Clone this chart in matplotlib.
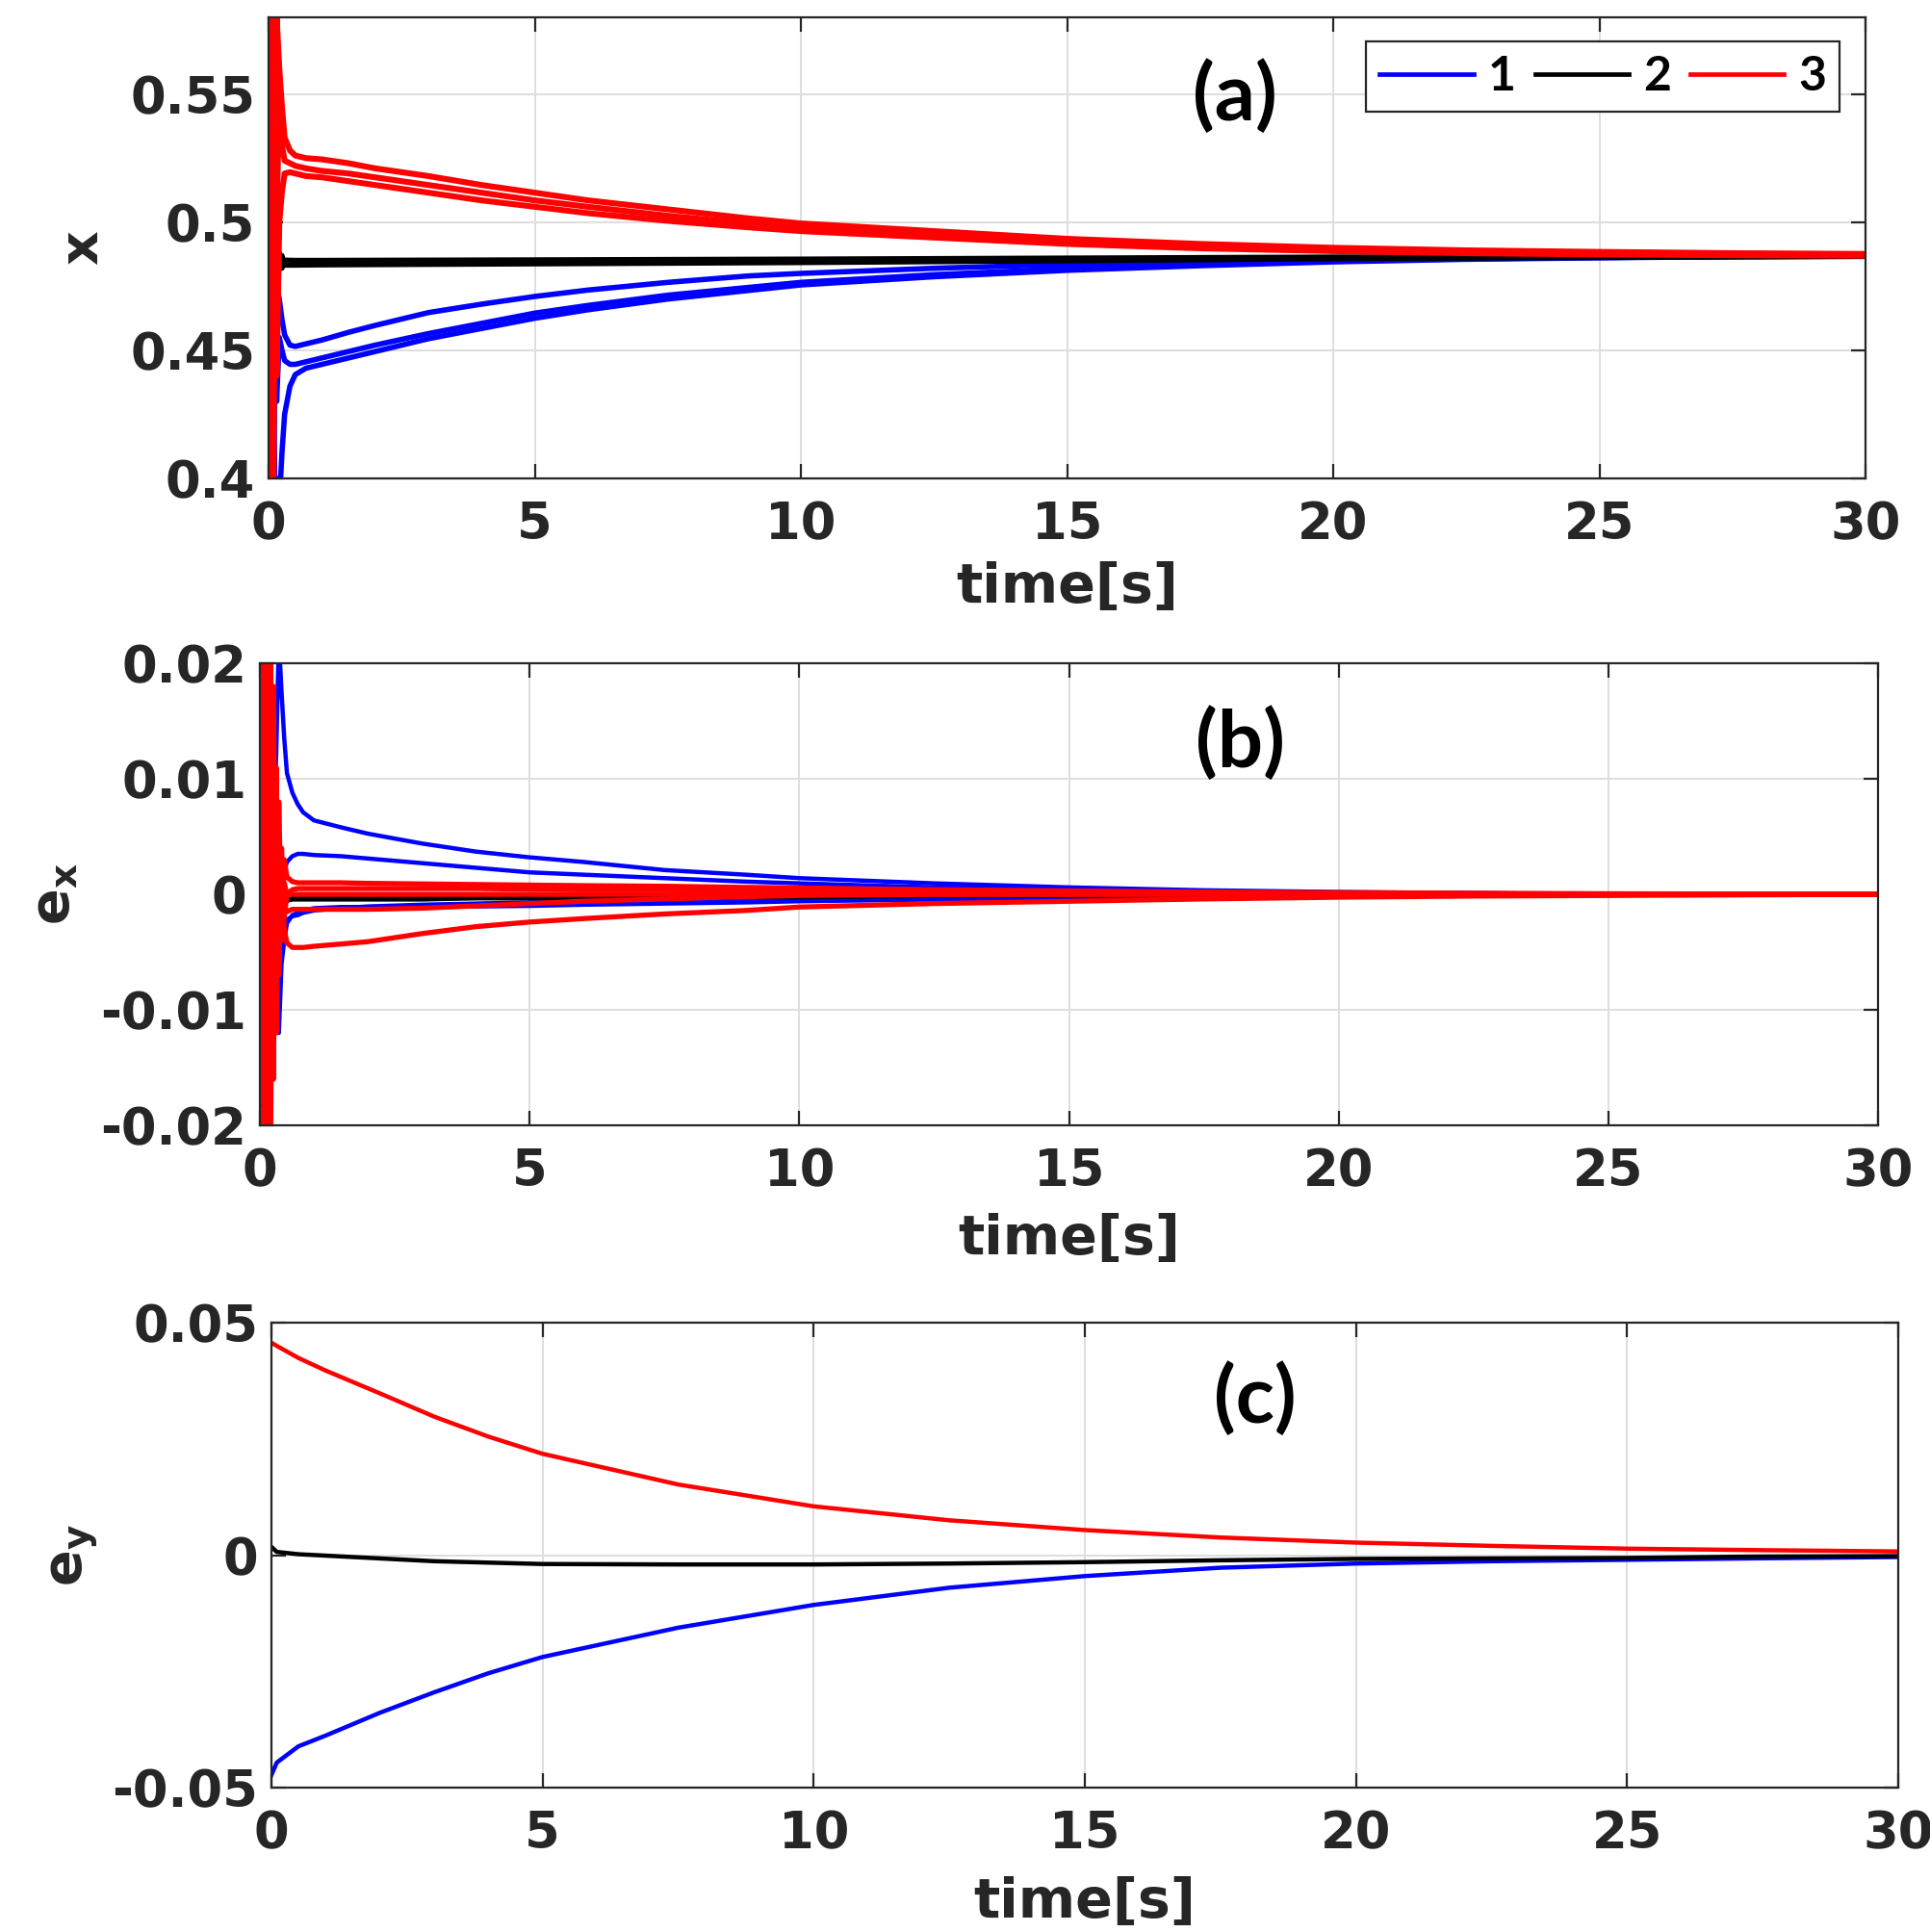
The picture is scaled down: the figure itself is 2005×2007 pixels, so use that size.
import matplotlib
matplotlib.use("Agg")
import matplotlib.pyplot as plt

plt.rcParams['font.family'] = ['DejaVu Sans']
plt.rcParams['font.weight'] = 'bold'
plt.rcParams['axes.labelweight'] = 'bold'
plt.rcParams['mathtext.fontset'] = 'dejavusans'
plt.rcParams['mathtext.default'] = 'bf'

# ---- data ----
x_ticks = [0, 5, 10, 15, 20, 25, 30]
series_names = ['1', '2', '3']
series_colors = ['#0000ff', '#000000', '#ff0000']

# panel (a) : x
t_a = [0, 0.03, 0.06, 0.09, 0.12, 0.15, 0.2, 0.25, 0.3, 0.4, 0.5, 0.7, 1, 1.5, 2,
       3, 4, 5, 6, 7.5, 9, 10, 12.5, 15, 17.5, 20, 22.5, 25, 27.5, 30]
red_a = [
    [0.50, 0.58, 0.40, 0.58, 0.45, 0.58, 0.56, 0.545, 0.533, 0.528, 0.526, 0.525, 0.5245, 0.523, 0.521,
     0.518, 0.5145, 0.5115, 0.5085, 0.505, 0.5015, 0.4995, 0.4965, 0.4935, 0.4915, 0.4900, 0.4890, 0.4884, 0.4879, 0.4876],
    [0.45, 0.40, 0.58, 0.42, 0.58, 0.50, 0.55, 0.53, 0.524, 0.523, 0.522, 0.521, 0.520, 0.519, 0.5175,
     0.5145, 0.5115, 0.5085, 0.506, 0.5025, 0.4995, 0.498, 0.495, 0.4925, 0.4905, 0.4893, 0.4884, 0.4878, 0.4874, 0.4872],
    [0.55, 0.42, 0.58, 0.40, 0.56, 0.44, 0.50, 0.512, 0.519, 0.5195, 0.519, 0.518, 0.5175, 0.516, 0.5145,
     0.5115, 0.5085, 0.506, 0.5035, 0.5005, 0.498, 0.4965, 0.494, 0.4915, 0.4898, 0.4887, 0.4879, 0.4874, 0.4871, 0.4869],
]
blue_a = [
    [0.48, 0.40, 0.47, 0.41, 0.48, 0.475, 0.47, 0.462, 0.456, 0.452, 0.4515, 0.4525, 0.454, 0.457, 0.4597,
     0.4647, 0.468, 0.471, 0.4735, 0.4765, 0.479, 0.480, 0.482, 0.4835, 0.4848, 0.4856, 0.4861, 0.4865, 0.4867, 0.4868],
    [0.46, 0.42, 0.48, 0.40, 0.46, 0.43, 0.455, 0.45, 0.446, 0.4445, 0.4445, 0.4455, 0.447, 0.4495, 0.452,
     0.4565, 0.4605, 0.4645, 0.4675, 0.4715, 0.4745, 0.4765, 0.4795, 0.4818, 0.4835, 0.4848, 0.4857, 0.4862, 0.4866, 0.4868],
    [0.40, 0.45, 0.39, 0.44, 0.39, 0.40, 0.39, 0.41, 0.425, 0.436, 0.4405, 0.443, 0.4445, 0.447, 0.4495,
     0.4545, 0.4585, 0.4625, 0.4658, 0.470, 0.4733, 0.4755, 0.4787, 0.4812, 0.4830, 0.4845, 0.4855, 0.4861, 0.4865, 0.4867],
]
t_a_black = [0, 0.02, 0.05, 0.08, 0.12, 0.16, 0.2, 0.25, 0.3, 0.5, 1, 3, 5, 10, 15, 20, 25, 30]
black_a = [
    [0.535, 0.42, 0.51, 0.46, 0.50, 0.47, 0.488, 0.482, 0.4852, 0.4851, 0.4851, 0.4852, 0.4853, 0.4856, 0.4860, 0.4864, 0.4866, 0.4868],
    [0.50, 0.44, 0.52, 0.45, 0.49, 0.478, 0.482, 0.487, 0.4832, 0.4832, 0.4833, 0.4835, 0.4837, 0.4842, 0.4849, 0.4857, 0.4862, 0.4866],
]

# panel (b) : e_x
t_b = [0, 0.03, 0.06, 0.09, 0.12, 0.15, 0.2, 0.25, 0.3, 0.35, 0.4, 0.45, 0.5, 0.6, 0.7, 0.8, 1, 1.5, 2,
       3, 4, 5, 6, 7.5, 9, 10, 12.5, 15, 17.5, 20, 22.5, 25, 30]
blue_b = [
    [0.0, -0.019, 0.004, -0.015, 0.002, -0.012, -0.005, 0.006, 0.012, 0.022, 0.0175, 0.0135, 0.0105, 0.0088, 0.0078,
     0.0071, 0.0064, 0.0058, 0.00525, 0.0044, 0.0037, 0.0032, 0.0028, 0.0021, 0.0017, 0.0014, 0.00095, 0.0006,
     0.00035, 0.0002, 0.0001, 0.0, 0.0],
    [0.0, 0.01, -0.018, 0.012, -0.016, 0.005, -0.01, 0.004, -0.006, 0.003, 0.0005, 0.002, 0.0028, 0.0033, 0.0035,
     0.0035, 0.0034, 0.0033, 0.0031, 0.0027, 0.0023, 0.0019, 0.0017, 0.0014, 0.0011, 0.00095, 0.0006, 0.0004,
     0.00025, 0.00015, 0.0001, 0.0, 0.0],
    [0.0, -0.012, 0.008, -0.021, 0.006, -0.016, 0.003, -0.008, -0.004, -0.012, -0.006, -0.004, -0.0025, -0.0018, -0.0016,
     -0.0014, -0.0012, -0.0011, -0.0011, -0.0011, -0.00105, -0.001, -0.0009, -0.0008, -0.0007, -0.0006, -0.00045, -0.0003,
     -0.0002, -0.0001, 0.0, 0.0, 0.0],
    [0.0, 0.006, -0.014, 0.009, -0.018, 0.004, -0.013, -0.003, -0.009, -0.002, -0.004, -0.0028, -0.0022, -0.0019, -0.0018,
     -0.0016, -0.0014, -0.0012, -0.00105, -0.0009, -0.0008, -0.0007, -0.0006, -0.0005, -0.0004, -0.00035, -0.00025, -0.00015,
     -0.0001, 0.0, 0.0, 0.0, 0.0],
]
black_b = [
    [0.0055, -0.021, 0.004, -0.015, 0.003, -0.008, 0.002, -0.004, 0.001, -0.0015, 0.0, -0.0008, -0.0005, -0.0004, -0.0004,
     -0.0004, -0.0004, -0.0004, -0.0004, -0.0004, -0.0003, -0.0003, -0.0003, -0.0003, -0.0002, -0.0002, -0.0001, -0.0001,
     0.0, 0.0, 0.0, 0.0, 0.0],
]
red_b = [
    [0.0, 0.022, -0.022, 0.022, -0.022, 0.022, -0.02, 0.018, -0.012, 0.008, -0.004, 0.003, 0.0015, 0.0011, 0.001,
     0.001, 0.001, 0.001, 0.00095, 0.0009, 0.00085, 0.0008, 0.00075, 0.0007, 0.0006, 0.00055, 0.0004, 0.0003,
     0.0002, 0.00015, 0.0001, 0.00005, 0.0],
    [0.0, -0.022, 0.022, -0.022, 0.022, -0.022, 0.02, -0.016, 0.011, -0.007, 0.004, -0.002, 0.0, 0.0004, 0.0005,
     0.0005, 0.0005, 0.0005, 0.0005, 0.0005, 0.0005, 0.00045, 0.0004, 0.0004, 0.00035, 0.0003, 0.0002, 0.00015,
     0.0001, 0.0, 0.0, 0.0, 0.0],
    [0.0, 0.02, -0.022, 0.021, -0.02, 0.019, -0.017, 0.014, -0.009, 0.005, -0.002, 0.001, 0.0, 0.0, 0.0,
     0.0, 0.0, 0.0, 0.0, 0.0, 0.0, 0.0, 0.0, 0.0, 0.0, 0.0, 0.0, 0.0,
     0.0, 0.0, 0.0, 0.0, 0.0],
    [0.0, 0.015, -0.022, 0.02, -0.02, 0.016, -0.015, 0.01, -0.008, 0.004, -0.003, -0.001, -0.0015, -0.0013, -0.0013,
     -0.0013, -0.0013, -0.0013, -0.0013, -0.0012, -0.001, -0.0008, -0.0006, -0.0004, -0.0002, -0.0001, 0.0, 0.0,
     0.0, 0.0, 0.0, 0.0, 0.0],
    [0.0, -0.02, 0.018, -0.022, 0.02, -0.018, 0.012, -0.012, 0.006, -0.006, 0.001, -0.003, -0.0042, -0.0046, -0.0046,
     -0.0046, -0.0045, -0.0043, -0.0041, -0.0034, -0.0028, -0.0024, -0.0021, -0.0017, -0.0014, -0.0011, -0.0008, -0.0006,
     -0.0004, -0.00025, -0.00015, -0.0001, 0.0],
]

# panel (c) : e_y
t_c = [0, 0.1, 0.5, 1, 2, 3, 4, 5, 7.5, 10, 12.5, 15, 17.5, 20, 22.5, 25, 27.3, 30]
blue_c = [-0.0473, -0.0446, -0.0411, -0.0388, -0.0339, -0.0295, -0.0254, -0.0219, -0.0156, -0.0107,
          -0.0070, -0.0045, -0.0027, -0.0018, -0.0013, -0.0010, -0.0007, -0.0004]
black_c = [0.0018, 0.0007, 0.0002, -0.0001, -0.0007, -0.0013, -0.0016, -0.0019, -0.002, -0.002,
           -0.0018, -0.0015, -0.0011, -0.0008, -0.0007, -0.0006, -0.0003, -0.0002]
red_c = [0.0457, 0.0450, 0.0424, 0.0397, 0.0348, 0.0298, 0.0255, 0.0218, 0.0152, 0.0105,
         0.0075, 0.0054, 0.0038, 0.0027, 0.0020, 0.0014, 0.0011, 0.0008]

yticks_a = [0.4, 0.45, 0.5, 0.55]
ylab_a = ['0.4', '0.45', '0.5', '0.55']
yticks_b = [-0.02, -0.01, 0, 0.01, 0.02]
ylab_b = ['-0.02', '-0.01', '0', '0.01', '0.02']
yticks_c = [-0.05, 0, 0.05]
ylab_c = ['-0.05', '0', '0.05']

# ---- figure ----
fig = plt.figure(figsize=(20.05, 20.07), dpi=100)
ax_a = fig.add_axes([0.1392, 0.7524, 0.8274, 0.2387])
ax_b = fig.add_axes([0.1347, 0.4175, 0.8384, 0.2392])
ax_c = fig.add_axes([0.1406, 0.0747, 0.8429, 0.2407])

dark = '#262626'


def style(ax, yticks, ylabels, ylim, ylabel, ylab_x, xlab_y):
    ax.set_xlim(0, 30)
    ax.set_ylim(*ylim)
    ax.set_xticks(x_ticks)
    ax.set_yticks(yticks)
    ax.set_yticklabels(ylabels)
    ax.grid(True, color='#dedede', lw=1.4)
    ax.set_axisbelow(True)
    ax.tick_params(direction='in', top=True, right=True, length=11, width=1.6,
                   colors=dark, labelsize=38)
    ax.tick_params(axis='x', pad=16)
    ax.tick_params(axis='y', pad=10)
    for s in ax.spines.values():
        s.set_color(dark)
        s.set_linewidth(1.6)
    ax.set_xlabel('time[s]', fontsize=41, color=dark, fontweight='bold')
    ax.xaxis.set_label_coords(0.5, xlab_y)
    ax.set_ylabel(ylabel, fontsize=40, color=dark, fontweight='bold')
    ax.yaxis.set_label_coords(ylab_x, 0.5)


# (a)
for y in blue_a:
    ax_a.plot(t_a, y, color=series_colors[0], lw=4.0)
for y in black_a:
    ax_a.plot(t_a_black, y, color=series_colors[1], lw=3.8)
for y in red_a:
    ax_a.plot(t_a, y, color=series_colors[2], lw=4.4)
style(ax_a, yticks_a, ylab_a, (0.4, 0.58), 'x', -0.100, -0.18)
h = [plt.Line2D([], [], color=c, lw=3.4) for c in series_colors]
leg = ax_a.legend(h, series_names, ncol=3, loc='upper right', bbox_to_anchor=(0.984, 0.9465),
                  borderaxespad=0, fancybox=False, framealpha=1, edgecolor=dark,
                  handlelength=1.95, handletextpad=0.3, columnspacing=0.4,
                  borderpad=0.28, prop={'family': 'Lato', 'weight': 'bold', 'size': 36})
leg.get_frame().set_linewidth(1.6)
ax_a.text(0.605, 0.829, '(a)', transform=ax_a.transAxes, ha='center', va='center',
          fontsize=60, family='Lato', weight='bold', color='black')

# (b)
for y in blue_b:
    ax_b.plot(t_b, y, color=series_colors[0], lw=3.2)
for y in black_b:
    ax_b.plot(t_b, y, color=series_colors[1], lw=4.0)
for y in red_b:
    ax_b.plot(t_b, y, color=series_colors[2], lw=3.8)
style(ax_b, yticks_b, ylab_b, (-0.02, 0.02), r'$e_x$', -0.111, -0.19)
ax_b.text(0.606, 0.827, '(b)', transform=ax_b.transAxes, ha='center', va='center',
          fontsize=60, family='Lato', weight='bold', color='black')

# (c)
ax_c.plot(t_c, blue_c, color=series_colors[0], lw=3.2)
ax_c.plot(t_c, black_c, color=series_colors[1], lw=3.2)
ax_c.plot(t_c, red_c, color=series_colors[2], lw=3.2)
style(ax_c, yticks_c, ylab_c, (-0.05, 0.05), r'$e_y$', -0.106, -0.19)
ax_c.text(0.6045, 0.836, '(c)', transform=ax_c.transAxes, ha='center', va='center',
          fontsize=60, family='Lato', weight='bold', color='black')

fig.savefig('out.png', dpi=100)
